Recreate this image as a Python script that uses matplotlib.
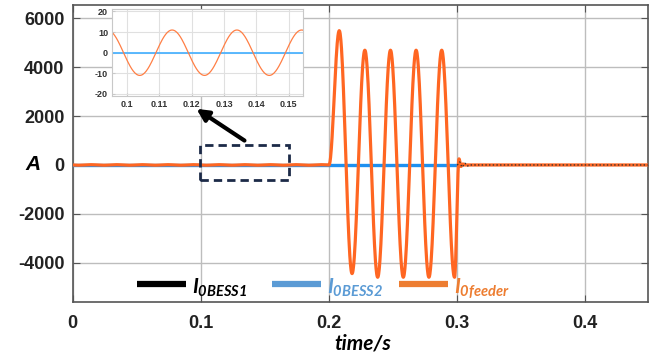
import numpy as np
import matplotlib
matplotlib.use("Agg")
import matplotlib.pyplot as plt
from matplotlib.patches import Rectangle
from matplotlib.lines import Line2D

# ---------------- data ----------------
# I_0feeder: extrema / knots (time s, current A)
feeder_t = [0.0, 0.004, 0.014, 0.024, 0.034, 0.044, 0.054, 0.064, 0.074, 0.084,
            0.094, 0.104, 0.114, 0.124, 0.134, 0.144, 0.154, 0.164, 0.174, 0.184,
            0.194, 0.2, 0.208, 0.218, 0.228, 0.238, 0.248, 0.258, 0.268, 0.278,
            0.288, 0.298, 0.3015, 0.3030, 0.3045, 0.306, 0.308, 0.45]
feeder_v = [0, -11, 11, -11, 11, -11, 11, -11, 11, -11,
            11, -11, 11, -11, 11, -11, 11, -11, 11, -11,
            11, 0, 5500, -4450, 4700, -4600, 4700, -4600, 4700, -4600,
            4700, -4600, 250, -60, 40, 0, 0, 0]
# I_0BESS2
bess2_t = [0.0, 0.3]
bess2_v = [0, 0]
# I_0BESS1 (small ringing right after 0.3 s)
bess1_t = [0.0, 0.300, 0.302, 0.304, 0.306, 0.308, 0.310, 0.45]
bess1_v = [0, 0, 120, -90, 70, -40, 0, 0]

x_ticks = [0, 0.1, 0.2, 0.3, 0.4]
y_ticks = [-4000, -2000, 0, 2000, 4000, 6000]
inset_x_ticks = [0.10, 0.11, 0.12, 0.13, 0.14, 0.15]
inset_y_ticks = [-20, -10, 0, 10, 20]
labels = ["0BESS1", "0BESS2", "0feeder"]

# ---------------- helpers ----------------
def smooth(ts, vs, n=40):
    """Half-cosine easing between consecutive read knots (shape only)."""
    out_t, out_v = [], []
    for i in range(len(ts) - 1):
        s = np.linspace(0, 1, n, endpoint=False)
        out_t.append(ts[i] + (ts[i + 1] - ts[i]) * s)
        out_v.append(vs[i] + (vs[i + 1] - vs[i]) * (1 - np.cos(np.pi * s)) / 2)
    out_t.append([ts[-1]]); out_v.append([vs[-1]])
    return np.concatenate(out_t), np.concatenate(out_v)

plt.rcParams['axes.unicode_minus'] = False
plt.rcParams['mathtext.fontset'] = 'custom'
plt.rcParams['mathtext.rm'] = 'Lato:bold:italic'
plt.rcParams['mathtext.it'] = 'Lato:bold:italic'
plt.rcParams['mathtext.bf'] = 'Lato:bold:italic'

C_OR = '#ff6622'
C_BL = '#1e90f0'
C_OR_L = '#ed7d31'
C_BL_L = '#5b9bd5'

fig = plt.figure(figsize=(6.68, 3.61), dpi=100)
ax = fig.add_axes([0.109, 0.163, 0.861, 0.823])

ft, fv = smooth(feeder_t, feeder_v)
bt, bv = smooth(bess1_t, bess1_v, n=10)
ax.plot(bess1_t[:2], bess1_v[:2], color='black', lw=2.0, zorder=2)
ax.plot(bess2_t, bess2_v, color=C_BL, lw=2.4, zorder=3)
ax.plot(ft, fv, color=C_OR, lw=2.3, zorder=4)
ax.plot(bt[bt >= 0.3], bv[bt >= 0.3], color='#333333', lw=1.0, ls=':', zorder=5)

ax.set_xlim(0, 0.449)
ax.set_ylim(-5620, 6550)
ax.set_xticks(x_ticks)
ax.set_xticklabels(['0', '0.1', '0.2', '0.3', '0.4'])
ax.set_yticks(y_ticks)
ax.grid(True, color='#bdbdbd', lw=1.0)
ax.set_axisbelow(True)
for sp in ax.spines.values():
    sp.set_color('#555555'); sp.set_linewidth(1.2)
ax.tick_params(direction='in', top=True, right=True, length=5, color='#555555',
               labelsize=13, pad=6)
ax.tick_params(axis='x', pad=9)
for lab in ax.get_xticklabels() + ax.get_yticklabels():
    lab.set_fontfamily('Liberation Sans'); lab.set_fontweight('bold'); lab.set_color('#222222')

ax.text(-0.07, 0, 'A', transform=ax.get_yaxis_transform(), ha='center', va='center',
        fontsize=15, fontweight='bold', fontstyle='italic', family='Liberation Sans')
ax.text(0.504, -0.104, 'time/s', transform=ax.transAxes, ha='center', va='top',
        fontsize=15, fontweight='bold', fontstyle='italic', family='Lato')

# dashed zoom box and arrow
ax.add_patch(Rectangle((0.0996, -616), 0.0692, 1437, fill=False, ls=(0, (3, 1.8)),
                       lw=2.0, ec='#1c2a48', zorder=6))
ax.annotate('', xy=(0.0965, 2300), xytext=(0.134, 1000),
            arrowprops=dict(arrowstyle='-|>,head_length=0.7,head_width=0.35',
                            color='black', lw=3.0, shrinkA=0, shrinkB=0), zorder=7)

# manual legend
leg = [(0.111, 'black', 'black'), (0.346, C_BL_L, C_BL_L), (0.567, C_OR_L, C_OR_L)]
for (x0, lc, tc), lab in zip(leg, labels):
    ax.add_line(Line2D([x0, x0 + 0.086], [0.061, 0.061], transform=ax.transAxes,
                       color=lc, lw=4.5, solid_capstyle='butt', zorder=8))
    ax.text(x0 + 0.096, 0.030, r'$I_{\mathrm{%s}}$' % lab, transform=ax.transAxes,
            color=tc, fontsize=15, ha='left', va='baseline', zorder=8)

# inset
ins = fig.add_axes([0.168, 0.734, 0.286, 0.24])
ins.set_facecolor('white')
ins.plot([0.09, 0.16], [0, 0], color='#4db3ff', lw=1.3)
ins.plot(ft, fv, color='#ff7f45', lw=0.9)
ins.set_xlim(0.0955, 0.1545)
ins.set_ylim(-21, 21)
ins.set_xticks(inset_x_ticks)
ins.set_xticklabels(['0.1', '0.11', '0.12', '0.13', '0.14', '0.15'])
ins.set_yticks(inset_y_ticks)
ins.grid(True, color='#e0e0e0', lw=0.8)
ins.set_axisbelow(True)
for sp in ins.spines.values():
    sp.set_color('#c8c8c8'); sp.set_linewidth(0.8)
ins.tick_params(direction='in', length=2, labelsize=6.5, color='#c8c8c8', pad=3)
for lab in ins.get_xticklabels() + ins.get_yticklabels():
    lab.set_fontweight('bold'); lab.set_color('#333333'); lab.set_fontfamily('Liberation Sans')

fig.savefig('out.png', dpi=100)
